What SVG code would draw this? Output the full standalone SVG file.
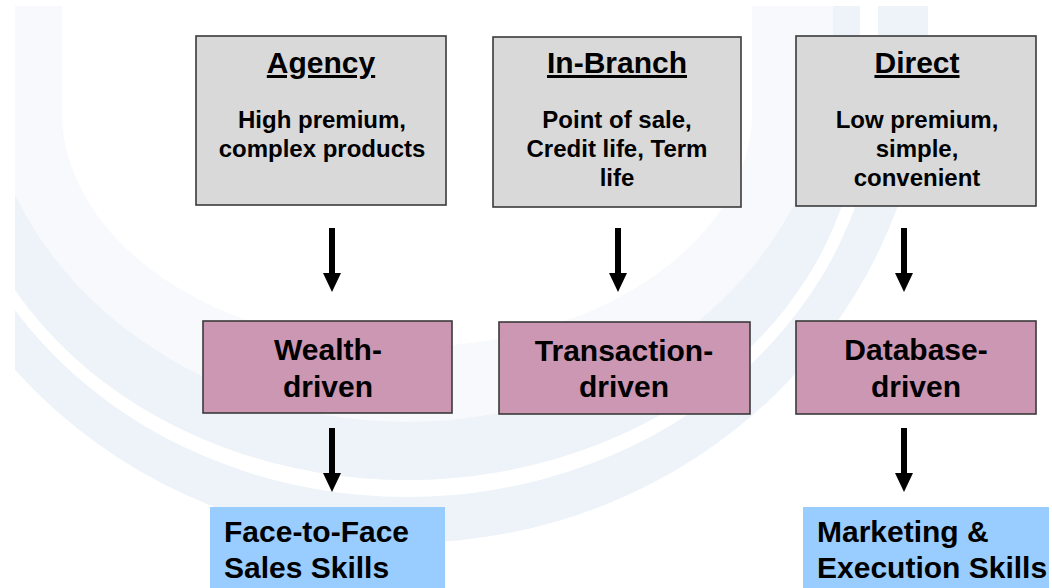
<svg xmlns="http://www.w3.org/2000/svg" width="1052" height="588" viewBox="0 0 1052 588">
<style>
  .bg { fill: #ffffff; }
  .band { fill: #edf3f8; }
  .pale { fill: #f7f9fc; }
  .white { fill: #ffffff; }
  .grey { fill: #d9d9d9; stroke: #3a3a3a; stroke-width: 1.6; }
  .pink { fill: #cb97b2; stroke: #3a3a3a; stroke-width: 1.6; }
  .blue { fill: #99ccff; }
  text { font-family: "Liberation Sans", Arial, sans-serif; font-weight: bold; fill: #000; }
  .title { font-size: 30px; text-anchor: middle; text-decoration: underline; }
  .body { font-size: 24px; text-anchor: middle; }
  .mid { font-size: 30px; text-anchor: middle; }
  .skill { font-size: 30px; }
  .conn { stroke: #000; stroke-width: 6; fill: none; }
</style>
<defs>
  <clipPath id="area"><rect x="15" y="6" width="1037" height="582"/></clipPath>
  <marker id="head" markerUnits="userSpaceOnUse" viewBox="0 -9 19 18" refX="0" refY="0" markerWidth="19" markerHeight="18" orient="auto">
    <path d="M0,-9 L19,0 L0,9 Z" fill="#000"/>
  </marker>
</defs>
<rect class="bg" x="0" y="0" width="1052" height="588"/>
<g id="watermark" clip-path="url(#area)">
  <path class="band" d="M-114,0 L-114,36 A521 507 0 0 0 928,36 L928,0 Z"/>
  <path class="white" d="M-64,0 L-64,78 A471 419 0 0 0 878,78 L878,0 Z"/>
  <path class="band" d="M-46,0 L-46,99 A453 381 0 0 0 860,99 L860,0 Z"/>
  <path class="pale" d="M-19,0 L-19,49 A426 373 0 0 0 833,49 L833,0 Z"/>
  <path class="white" d="M62,0 L62,112 A345 235 0 0 0 752,112 L752,0 Z"/>
</g>
<g id="connectors">
  <line class="conn" x1="332" y1="228" x2="332" y2="273" marker-end="url(#head)"/>
  <line class="conn" x1="618" y1="228" x2="618" y2="273" marker-end="url(#head)"/>
  <line class="conn" x1="904" y1="228" x2="904" y2="273" marker-end="url(#head)"/>
  <line class="conn" x1="332" y1="428" x2="332" y2="473" marker-end="url(#head)"/>
  <line class="conn" x1="904" y1="428" x2="904" y2="473" marker-end="url(#head)"/>
</g>
<g id="agency">
  <rect class="grey" x="196" y="36" width="250" height="169"/>
  <text class="title" x="321" y="73">Agency</text>
  <text class="body" x="322" y="128">High premium,</text>
  <text class="body" x="322" y="157">complex products</text>
</g>
<g id="in-branch">
  <rect class="grey" x="493" y="37" width="248" height="170"/>
  <text class="title" x="617" y="73">In-Branch</text>
  <text class="body" x="617" y="128">Point of sale,</text>
  <text class="body" x="617" y="157">Credit life, Term</text>
  <text class="body" x="617" y="186">life</text>
</g>
<g id="direct">
  <rect class="grey" x="796" y="36" width="240" height="170"/>
  <text class="title" x="917" y="73">Direct</text>
  <text class="body" x="917" y="128">Low premium,</text>
  <text class="body" x="917" y="157">simple,</text>
  <text class="body" x="917" y="186">convenient</text>
</g>
<g id="wealth">
  <rect class="pink" x="203" y="321" width="249" height="92"/>
  <text class="mid" x="328" y="360">Wealth-</text>
  <text class="mid" x="328" y="397">driven</text>
</g>
<g id="transaction">
  <rect class="pink" x="499" y="322" width="251" height="92"/>
  <text class="mid" x="624" y="361">Transaction-</text>
  <text class="mid" x="624" y="397">driven</text>
</g>
<g id="database">
  <rect class="pink" x="796" y="321" width="240" height="93"/>
  <text class="mid" x="916" y="360">Database-</text>
  <text class="mid" x="916" y="397">driven</text>
</g>
<g id="face-to-face">
  <rect class="blue" x="210" y="507" width="235" height="81"/>
  <text class="skill" x="224" y="542">Face-to-Face</text>
  <text class="skill" x="224" y="578">Sales Skills</text>
</g>
<g id="marketing">
  <rect class="blue" x="803" y="507" width="246" height="81"/>
  <text class="skill" x="817" y="542">Marketing &amp;</text>
  <text class="skill" x="817" y="578">Execution Skills</text>
</g>
</svg>
